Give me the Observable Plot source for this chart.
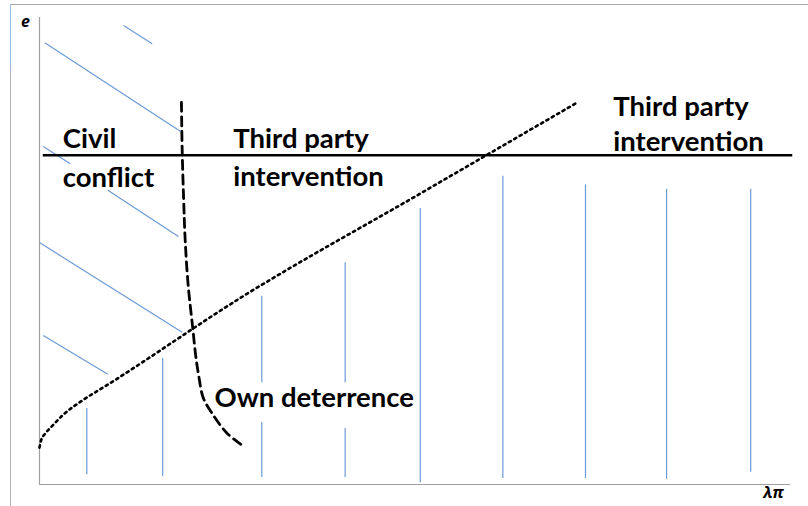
<!DOCTYPE html>
<html>
<head>
<meta charset="utf-8">
<script src="https://cdn.jsdelivr.net/npm/d3@7"></script>
<script src="https://cdn.jsdelivr.net/npm/@observablehq/plot@0.6"></script>
<style>
  html, body { margin: 0; padding: 0; background: #fff; }
  #wrap { position: relative; width: 808px; height: 506px; overflow: hidden; }
  #frame { position: absolute; left: 10px; top: 4px; right: 0; bottom: 0;
           border-left: 1px solid #b4b4b4; border-top: 1.5px solid #a8a8a8; }
  #frameBlue { position: absolute; left: 10px; top: 4px; width: 1px; height: 66px; background: #9dbbe3; }
  #chart { position: absolute; left: 0; top: 0; }
</style>
</head>
<body>
<div id="wrap"><div id="frame"></div><div id="frameBlue"></div><div id="chart"></div></div>
<script>
// ---- data (axis units 0..10 for both λπ and e) ----
// diagonal hatching (civil conflict region)
const hatchX1 = [1.12, 0.07, 0.05, 0.91, 0.00, 0.05];
const hatchY1 = [9.83, 9.46, 7.24, 6.30, 5.18, 3.19];
const hatchX2 = [1.50, 1.88, 0.41, 1.85, 1.90, 0.91];
const hatchY2 = [9.44, 7.56, 6.87, 5.31, 3.26, 2.36];

// vertical hatching segments (third party intervention region)
const vlineX      = [0.63, 1.64, 2.96, 2.96, 4.07, 4.07, 5.07, 6.17, 7.27, 8.35, 9.47];
const vlineTop    = [1.63, 2.70, 4.03, 1.33, 4.75, 1.20, 5.91, 6.60, 6.42, 6.32, 6.32];
const vlineBottom = [0.21, 0.17, 2.18, 0.15, 2.18, 0.15, 0.04, 0.13, 0.13, 0.11, 0.26];

// own deterrence curve (dashed)
const deterX = [1.89, 1.90, 1.92, 1.94, 1.98, 2.04, 2.08, 2.12, 2.18, 2.30, 2.49, 2.70];
const deterY = [8.18, 7.15, 6.08, 5.23, 4.26, 3.36, 2.76, 2.33, 1.86, 1.52, 1.11, 0.84];

// third party curve (dotted)
const thirdX = [0.00, 0.02, 0.07, 0.15, 0.32, 0.59, 0.91, 2.68, 5.07, 7.14];
const thirdY = [0.79, 0.94, 1.08, 1.22, 1.50, 1.82, 2.14, 4.00, 6.23, 8.16];

// horizontal threshold line
const thresholdE = 7.05;
const thresholdX = [0.05, 10.03];

// region labels
const labelText = ["Civil", "conflict", "Third party", "intervention", "Third party", "intervention", "Own deterrence"];
const labelX    = [0.31, 0.31, 2.58, 2.58, 7.64, 7.64, 2.33];
const labelY    = [7.20, 6.38, 7.20, 6.40, 7.90, 7.15, 1.65];

const xLabel = "λπ";
const yLabel = "e";

// ---- build tables ----
const hatch = hatchX1.map((_, i) => ({x1: hatchX1[i], y1: hatchY1[i], x2: hatchX2[i], y2: hatchY2[i]}));
const vlines = vlineX.map((x, i) => ({x, y1: vlineBottom[i], y2: vlineTop[i]}));
const deter = deterX.map((x, i) => ({x, y: deterY[i]}));
const third = thirdX.map((x, i) => ({x, y: thirdY[i]}));
const labels = labelText.map((t, i) => ({t, x: labelX[i], y: labelY[i]}));

const blue = "#6c9ad6";
const textFont = "Lato, 'Open Sans', sans-serif";

const chart = Plot.plot({
  width: 808,
  height: 506,
  marginLeft: 39,
  marginRight: 18,
  marginTop: 17,
  marginBottom: 22,
  style: {background: "transparent", overflow: "visible"},
  x: {domain: [0, 10], axis: null},
  y: {domain: [0, 10], axis: null},
  marks: [
    Plot.link(hatch, {x1: "x1", y1: "y1", x2: "x2", y2: "y2", stroke: blue, strokeWidth: 1.2}),
    Plot.ruleX(vlines, {x: "x", y1: "y1", y2: "y2", stroke: blue, strokeWidth: 1.2}),
    Plot.ruleX([0], {y1: 0, y2: 10, stroke: "#a0a0a0", strokeWidth: 1.2}),
    Plot.ruleY([0], {x1: 0, x2: 10, stroke: "#a0a0a0", strokeWidth: 1.2}),
    Plot.ruleY([thresholdE], {x1: thresholdX[0], x2: thresholdX[1], stroke: "#000", strokeWidth: 2.6}),
    Plot.line(third, {x: "x", y: "y", stroke: "#000", strokeWidth: 2.6, strokeDasharray: "2.3,3.9", curve: "monotone-x"}),
    Plot.line(deter, {x: "x", y: "y", stroke: "#000", strokeWidth: 2.8, strokeDasharray: "9,5.5", curve: "catmull-rom"}),
    Plot.text(labels, {x: "x", y: "y", text: "t", textAnchor: "start", lineAnchor: "bottom",
      fontSize: 27.5, fontWeight: "bold", fontFamily: textFont, fill: "#000"}),
    Plot.text([yLabel], {frameAnchor: "top-left", dx: -14, dy: 4, textAnchor: "middle", lineAnchor: "middle",
      fontSize: 16, fontWeight: "bold", fontStyle: "italic", fontFamily: "'Open Sans', sans-serif", fill: "#000"}),
    Plot.text([xLabel], {frameAnchor: "bottom-right", dx: -17, dy: 8, textAnchor: "middle", lineAnchor: "middle",
      fontSize: 16, fontWeight: "bold", fontStyle: "italic", fontFamily: "'Open Sans', sans-serif", fill: "#000"})
  ]
});
document.getElementById("chart").appendChild(chart);
</script>
</body>
</html>
